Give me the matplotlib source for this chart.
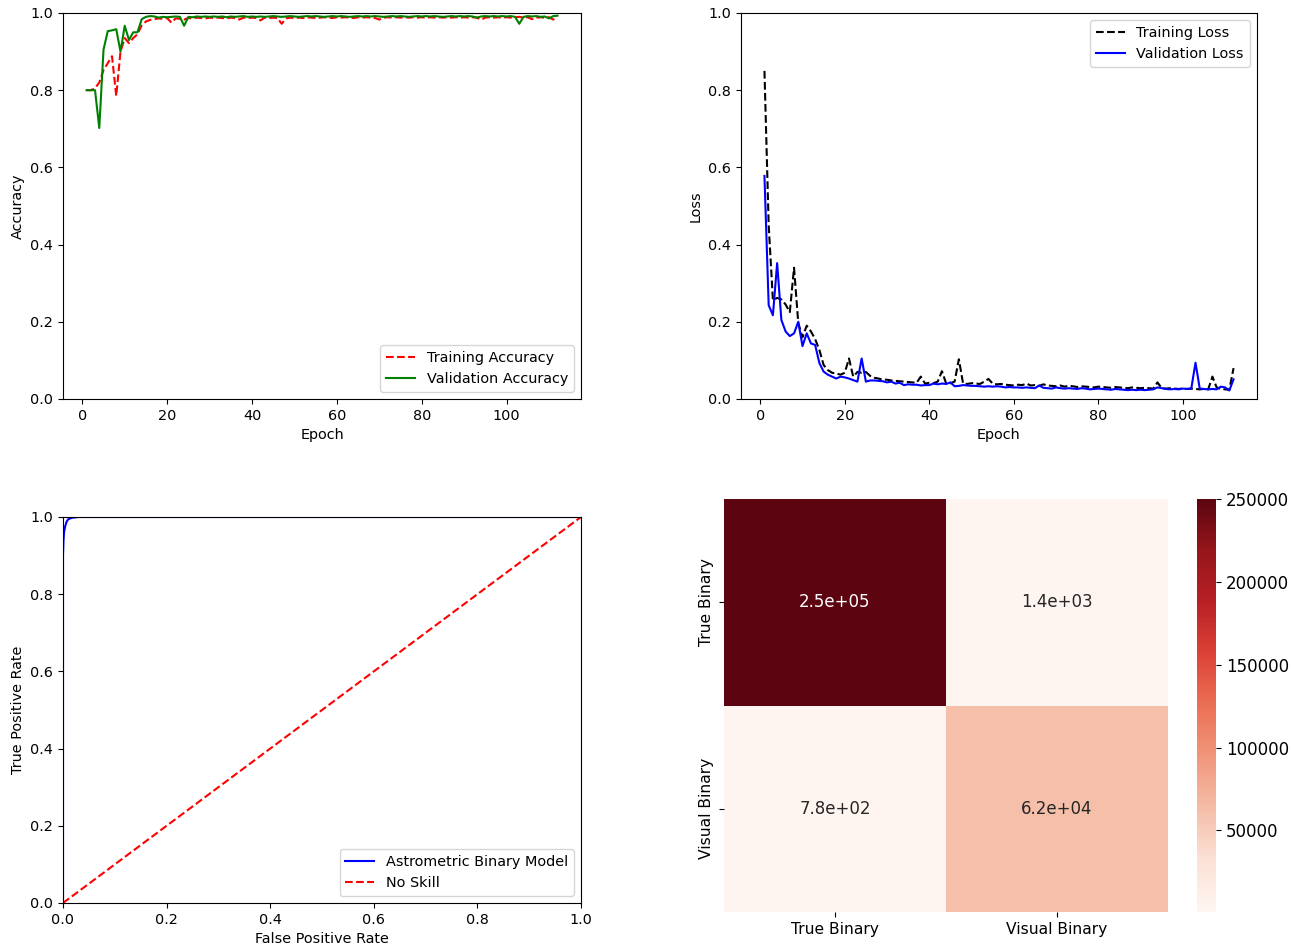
import numpy as np
import matplotlib
matplotlib.use("Agg")
import matplotlib.pyplot as plt
from matplotlib.colors import ListedColormap
import seaborn as sns

# Training history (epochs 1..112)
epochs = list(range(1, 113))

train_acc = [
    0.800, 0.800, 0.805, 0.820, 0.852, 0.870, 0.888, 0.785, 0.900, 0.935,
    0.922, 0.935, 0.945, 0.968, 0.978, 0.982, 0.984, 0.986, 0.985, 0.987,
    0.975, 0.986, 0.985, 0.983, 0.987, 0.986, 0.988, 0.987, 0.986, 0.988,
    0.987, 0.988, 0.987, 0.986, 0.988, 0.987, 0.983, 0.988, 0.987, 0.988,
    0.987, 0.981, 0.988, 0.987, 0.988, 0.987, 0.972, 0.986, 0.988, 0.987,
    0.988, 0.987, 0.989, 0.988, 0.987, 0.988, 0.989, 0.988, 0.987, 0.989,
    0.988, 0.989, 0.988, 0.987, 0.989, 0.988, 0.989, 0.988, 0.987, 0.983,
    0.988, 0.989, 0.988, 0.989, 0.988, 0.989, 0.988, 0.989, 0.988, 0.989,
    0.988, 0.989, 0.988, 0.989, 0.988, 0.989, 0.988, 0.989, 0.988, 0.989,
    0.988, 0.989, 0.988, 0.983, 0.988, 0.989, 0.988, 0.989, 0.988, 0.989,
    0.988, 0.989, 0.990, 0.988, 0.989, 0.984, 0.988, 0.989, 0.988, 0.989, 0.983, 0.988,
]

val_acc = [
    0.800, 0.800, 0.800, 0.702, 0.905, 0.953, 0.955, 0.958, 0.900, 0.967,
    0.930, 0.950, 0.950, 0.984, 0.990, 0.992, 0.991, 0.988, 0.990, 0.989,
    0.990, 0.991, 0.990, 0.967, 0.990, 0.989, 0.991, 0.990, 0.991, 0.990,
    0.991, 0.990, 0.991, 0.989, 0.991, 0.990, 0.991, 0.992, 0.990, 0.991,
    0.990, 0.991, 0.990, 0.991, 0.992, 0.991, 0.990, 0.991, 0.992, 0.991,
    0.990, 0.991, 0.992, 0.991, 0.992, 0.991, 0.990, 0.991, 0.992, 0.991,
    0.992, 0.991, 0.990, 0.991, 0.992, 0.991, 0.992, 0.991, 0.992, 0.991,
    0.990, 0.991, 0.992, 0.991, 0.992, 0.991, 0.990, 0.991, 0.992, 0.991,
    0.992, 0.991, 0.992, 0.991, 0.990, 0.991, 0.992, 0.991, 0.992, 0.991,
    0.992, 0.991, 0.988, 0.991, 0.992, 0.991, 0.992, 0.991, 0.992, 0.991,
    0.992, 0.990, 0.972, 0.990, 0.992, 0.991, 0.992, 0.990, 0.991, 0.986, 0.992, 0.993,
]

train_loss = [
    0.850, 0.450, 0.256, 0.262, 0.258, 0.245, 0.225, 0.340, 0.197, 0.160,
    0.190, 0.175, 0.155, 0.127, 0.088, 0.075, 0.068, 0.066, 0.063, 0.068,
    0.105, 0.058, 0.070, 0.068, 0.070, 0.060, 0.055, 0.053, 0.050, 0.050,
    0.048, 0.047, 0.046, 0.045, 0.044, 0.043, 0.042, 0.058, 0.040, 0.042,
    0.041, 0.045, 0.072, 0.040, 0.041, 0.045, 0.103, 0.040, 0.039, 0.041,
    0.040, 0.039, 0.045, 0.052, 0.040, 0.038, 0.039, 0.037, 0.036, 0.035,
    0.037, 0.036, 0.040, 0.035, 0.036, 0.034, 0.038, 0.035, 0.034, 0.033,
    0.035, 0.032, 0.034, 0.033, 0.031, 0.033, 0.032, 0.031, 0.030, 0.032,
    0.031, 0.030, 0.029, 0.031, 0.030, 0.029, 0.028, 0.030, 0.029, 0.028,
    0.029, 0.028, 0.027, 0.043, 0.028, 0.027, 0.028, 0.027, 0.026, 0.027,
    0.026, 0.027, 0.026, 0.025, 0.026, 0.025, 0.058, 0.030, 0.026, 0.025, 0.024, 0.080,
]

val_loss = [
    0.578, 0.243, 0.217, 0.352, 0.205, 0.175, 0.163, 0.170, 0.200, 0.137,
    0.170, 0.144, 0.140, 0.093, 0.071, 0.063, 0.058, 0.053, 0.058, 0.056,
    0.053, 0.049, 0.045, 0.105, 0.045, 0.048, 0.048, 0.047, 0.046, 0.043,
    0.045, 0.040, 0.042, 0.036, 0.038, 0.037, 0.037, 0.035, 0.036, 0.036,
    0.040, 0.038, 0.040, 0.039, 0.043, 0.033, 0.034, 0.036, 0.035, 0.034,
    0.034, 0.033, 0.032, 0.033, 0.032, 0.033, 0.032, 0.030, 0.031, 0.030,
    0.030, 0.029, 0.030, 0.029, 0.028, 0.035, 0.029, 0.028, 0.027, 0.030,
    0.028, 0.027, 0.028, 0.027, 0.026, 0.028, 0.027, 0.025, 0.026, 0.027,
    0.026, 0.025, 0.024, 0.026, 0.025, 0.024, 0.023, 0.024, 0.023, 0.024,
    0.023, 0.024, 0.025, 0.030, 0.028, 0.026, 0.025, 0.026, 0.025, 0.027,
    0.026, 0.027, 0.094, 0.027, 0.026, 0.025, 0.026, 0.025, 0.032, 0.030, 0.022, 0.051,
]

# ROC curve points
fpr = [0.0, 0.0, 0.001, 0.002, 0.004, 0.007, 0.010, 0.017, 0.030, 1.0]
tpr = [0.0, 0.900, 0.940, 0.960, 0.975, 0.988, 0.994, 0.998, 1.0, 1.0]
no_skill = [0.0, 1.0]

# Confusion matrix
class_names = ["True Binary", "Visual Binary"]
conf_mat = np.array([[250000, 1400],
                     [780, 62000]])

plt.rcParams["font.size"] = 10.4

W, H = 1291, 944
fig = plt.figure(figsize=(W / 100, H / 100), dpi=100)


def box(left, top, right, bottom):
    return [left / W, 1 - bottom / H, (right - left) / W, (bottom - top) / H]


# Accuracy
ax1 = fig.add_axes(box(63, 13, 581, 399))
ax1.plot(epochs, train_acc, "r--", label="Training Accuracy")
ax1.plot(epochs, val_acc, "g-", label="Validation Accuracy")
ax1.set_ylim(0, 1)
ax1.set_xlabel("Epoch")
ax1.set_ylabel("Accuracy")
ax1.legend(loc="lower right")

# Loss
ax2 = fig.add_axes(box(741, 13, 1257, 399))
ax2.plot(epochs, train_loss, "k--", label="Training Loss")
ax2.plot(epochs, val_loss, "b-", label="Validation Loss")
ax2.set_ylim(0, 1)
ax2.set_xlabel("Epoch")
ax2.set_ylabel("Loss")
ax2.legend(loc="upper right")

# ROC
ax3 = fig.add_axes(box(63, 517, 581, 903))
ax3.plot(fpr, tpr, "b-", label="Astrometric Binary Model")
ax3.plot(no_skill, no_skill, "r--", label="No Skill")
ax3.set_xlim(0, 1)
ax3.set_ylim(0, 1)
ax3.set_xlabel("False Positive Rate")
ax3.set_ylabel("True Positive Rate")
ax3.legend(loc="lower right")

# slightly muted Reds, the heatmap in the original looks washed out
reds = plt.get_cmap("Reds")(np.linspace(0, 1, 256))
lum = (reds[:, :3] @ np.array([0.299, 0.587, 0.114]))[:, None]
reds[:, :3] = reds[:, :3] * 0.85 + lum * 0.15
muted_reds = ListedColormap(reds)

# Confusion matrix heatmap
ax4 = fig.add_axes(box(724, 499, 1168, 912))
cax = fig.add_axes(box(1197, 499, 1216, 912))
sns.heatmap(conf_mat, annot=True, cmap=muted_reds, ax=ax4, cbar_ax=cax,
            xticklabels=class_names, yticklabels=class_names,
            annot_kws={"size": 12})
ax4.tick_params(labelsize=11.2)
plt.setp(ax4.get_yticklabels(), rotation=90, va="center")
cax.tick_params(labelsize=12)

fig.savefig("out.png", dpi=100)
